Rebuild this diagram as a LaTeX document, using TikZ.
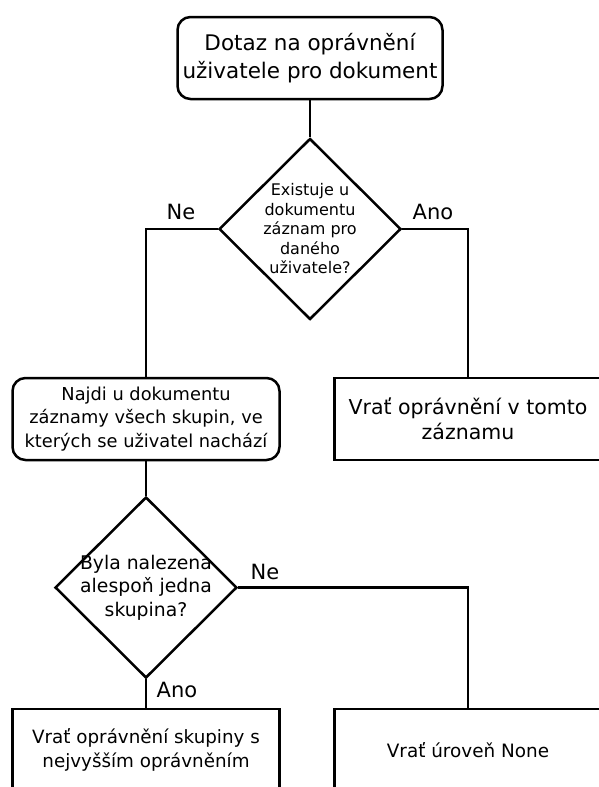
\documentclass[tikz,border=0pt]{standalone}
\usepackage{fontspec}
\setmainfont{DejaVu Sans}
\usetikzlibrary{shapes.geometric}
\begin{document}
\begin{tikzpicture}[x=1pt,y=-1pt,
  rbox/.style={draw, line width=2.5pt, rounded corners=13pt, minimum width=267pt, minimum height=82pt, align=center, inner sep=0pt},
  sbox/.style={draw, line width=2.5pt, minimum width=267pt, minimum height=82pt, align=center, inner sep=0pt},
  dec/.style={draw, line width=2.5pt, diamond, minimum width=182pt, minimum height=181pt, inner sep=0pt},
  dectext/.style={align=center, inner sep=0pt},
  lbl/.style={font=\fontsize{21}{24}\selectfont, inner sep=0pt},
  conn/.style={line width=2.5pt}]
\useasboundingbox (0,0) rectangle (598,787);
\node[rbox, minimum width=265pt, font=\fontsize{21.5}{28}\selectfont] (start) at (310,58) {Dotaz na oprávnění\\uživatele pro dokument};
\node[dec, label={[dectext, font=\fontsize{16}{19.5}\selectfont]center:Existuje u\\dokumentu\\záznam pro\\daného\\uživatele?}] (d1) at (310,229) {};
\node[rbox, font=\fontsize{17.8}{23.5}\selectfont] (groups) at (146,419) {Najdi u dokumentu\\záznamy všech skupin, ve\\kterých se uživatel nachází};
\node[sbox, font=\fontsize{20.5}{25}\selectfont] (ret1) at (468,419) {Vrať oprávnění v tomto\\záznamu};
\node[dec, label={[dectext, font=\fontsize{18.8}{23.5}\selectfont]center:Byla nalezena\\alespoň jedna\\skupina?}] (d2) at (146,587.5) {};
\node[sbox, font=\fontsize{18.3}{24}\selectfont] (ret2) at (146,750) {Vrať oprávnění skupiny s\\nejvyšším oprávněním};
\node[sbox, font=\fontsize{18.4}{24}\selectfont] (ret3) at (468,750) {Vrať úroveň None};
\node[lbl] (ne1) at (181,212) {Ne};
\node[lbl] (ano1) at (433,212) {Ano};
\node[lbl] (ne2) at (265,572) {Ne};
\node[lbl] (ano2) at (177,690) {Ano};
\draw[conn] (start.south) -- (d1.north);
\draw[conn] (d1.west) -| (groups.north);
\draw[conn] (d1.east) -| (ret1.north);
\draw[conn] (groups.south) -- (d2.north);
\draw[conn] (d2.south) -- (ret2.north);
\draw[conn] (d2.east) -| (ret3.north);
\end{tikzpicture}
\end{document}
